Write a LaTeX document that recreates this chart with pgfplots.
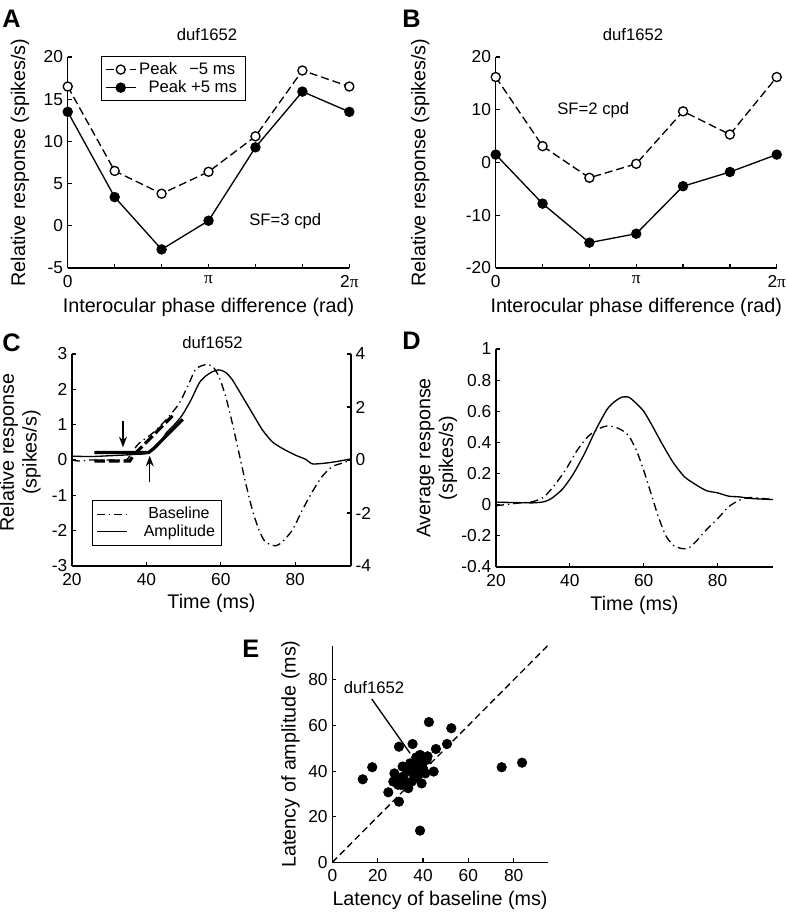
\documentclass[border=0pt]{standalone}
\usepackage{pgfplots}
\pgfplotsset{compat=1.18}
\usepackage{fontspec}
\setmainfont{Liberation Sans}
\newfontfamily\serif{Liberation Serif}
\usetikzlibrary{arrows.meta}
\newcommand\ticksize{\fontsize{13}{15}\selectfont}
\newcommand\labsize{\fontsize{14.8}{17}\selectfont}
\newcommand\legsize{\fontsize{12.5}{14}\selectfont}
\newcommand\letsize{\fontsize{19}{22}\selectfont\bfseries}
\pgfplotsset{
  panel/.style={
    scale only axis, anchor=south west,
    axis x line*=bottom, axis y line*=left,
    tick align=inside, major tick length=3pt,
    axis line style={line width=0.9pt, black},
    every tick/.style={line width=0.9pt, black},
    tick label style={font=\ticksize},
    xticklabel style={yshift=-2pt},
    label style={font=\labsize},
    /pgf/number format/assume math mode=true,
  },
  dashdot/.style={black, line width=1pt, dash pattern=on 6pt off 3pt on 1pt off 3pt},
  longlegend/.style={legend image code/.code={\draw[mark repeat=2,mark phase=2,##1] plot coordinates {(0cm,0cm) (0.4cm,0cm) (0.8cm,0cm)};}},
}
\begin{document}
\begin{tikzpicture}
\path[use as bounding box] (0,0) rectangle (588.75pt,684.75pt);

% ---------------- A ----------------
\begin{axis}[panel, at={(50.8pt,483.75pt)}, width=211.2pt, height=158.25pt,
  xmin=0, xmax=6.2832, ymin=-5, ymax=20, clip=false,
  xtick={0,1.0472,2.0944,3.1416,4.1888,5.236,6.2832},
  xticklabels={0,,,{\serif π},,,{2\serif π}},
  ytick={-5,0,5,10,15,20}, yticklabels={-5,0,5,10,15,20},
  xlabel={Interocular phase difference (rad)},
  ylabel={Relative response (spikes/s)},
  xlabel style={at={(axis description cs:0.5,-0.213)}, anchor=base},
  ylabel style={at={(axis description cs:-0.169,0.5)}, anchor=center},
  legend style={at={(0.118,1.005)}, anchor=north west, font=\legsize, draw=black, line width=0.9pt, inner sep=2.5pt, row sep=-1pt},
  legend cell align=left, longlegend,
  legend image post style={line width=1pt},
]
\addplot[black, line width=1pt, dash pattern=on 6pt off 3pt, mark=*, mark size=3.4pt, mark options={solid, fill=white, line width=1pt}]
  coordinates {(0,16.5) (1.0472,6.5) (2.0944,3.8) (3.1416,6.4) (4.1888,10.6) (5.236,18.4) (6.2832,16.5)};
\addlegendentry{Peak\ \ \,\textminus5 ms\ \ }
\addplot[black, line width=1pt, mark=*, mark size=3.4pt, mark options={fill=black}]
  coordinates {(0,13.5) (1.0472,3.4) (2.0944,-2.8) (3.1416,0.6) (4.1888,9.3) (5.236,15.9) (6.2832,13.5)};
\addlegendentry{\ \ Peak +5 ms}
\node[font=\legsize] at (axis cs:4.854,0.57) {SF=3 cpd};
\end{axis}

% ---------------- B ----------------
\begin{axis}[panel, at={(371.8pt,483.75pt)}, width=210.75pt, height=158.25pt,
  xmin=0, xmax=6.2832, ymin=-20, ymax=20, clip=false,
  xtick={0,1.0472,2.0944,3.1416,4.1888,5.236,6.2832},
  xticklabels={0,,,{\serif π},,,{2\serif π}},
  ytick={-20,-10,0,10,20}, yticklabels={-20,-10,0,10,20},
  xlabel={Interocular phase difference (rad)},
  ylabel={Relative response (spikes/s)},
  xlabel style={at={(axis description cs:0.5,-0.213)}, anchor=base},
  ylabel style={at={(axis description cs:-0.269,0.5)}, anchor=center},
]
\addplot[black, line width=1pt, dash pattern=on 6pt off 3pt, mark=*, mark size=3.4pt, mark options={solid, fill=white, line width=1pt}]
  coordinates {(0,16.2) (1.0472,3.1) (2.0944,-2.9) (3.1416,-0.25) (4.1888,9.7) (5.236,5.3) (6.2832,16.2)};
\addplot[black, line width=1pt, mark=*, mark size=3.4pt, mark options={fill=black}]
  coordinates {(0,1.5) (1.0472,-7.8) (2.0944,-15.2) (3.1416,-13.5) (4.1888,-4.5) (5.236,-1.8) (6.2832,1.5)};
\node[font=\legsize] at (axis cs:2.18,9.9) {SF=2 cpd};
\end{axis}

% ---------------- C ----------------
\begin{axis}[panel, at={(54pt,260.25pt)}, width=209.25pt, height=159pt,
  xmin=20, xmax=95, ymin=-3, ymax=3,
  xtick={20,40,60,80}, xticklabels={20,40,60,80},
  ytick={-3,-2,-1,0,1,2,3}, yticklabels={-3,-2,-1,0,1,2,3},
  xlabel={Time (ms)},
  ylabel={Relative response\\(spikes/s)},
  ylabel style={align=center, at={(axis description cs:-0.186,0.535)}, anchor=center},
  xlabel style={at={(axis description cs:0.5,-0.2)}, anchor=base},
  legend style={at={(0.07,0.095)}, anchor=south west, font=\fontsize{12}{14}\selectfont, draw=black, line width=0.9pt, inner sep=3pt, row sep=-1pt},
  legend cell align=left, longlegend,
  legend image post style={line width=1pt},
]
\addplot[dashdot, smooth, tension=0.4] coordinates {(20,0.0)(22,-0.03)(25,0)(30,0)(34.5,0)(36,0.2)(38,0.47)(41.7,0.76)(45.3,1.14)(48.8,1.6)(51.5,2.18)(53.3,2.58)(56,2.7)(57.8,2.65)(59.5,2.36)(61.3,1.8)(63.1,1.04)(64.9,0.19)(66.7,-0.66)(68.5,-1.42)(70.3,-1.99)(72,-2.32)(74.7,-2.43)(76.5,-2.32)(79.2,-1.99)(81.9,-1.42)(84.6,-0.9)(87.2,-0.47)(89.9,-0.19)(92.6,-0.09)(95,0)};
\addlegendentry{\ \ \ \ Baseline}
\addplot[black, line width=1pt, smooth, tension=0.4] coordinates {(20,0.11)(23,0.1)(26,0.1)(30,0.12)(34,0.14)(37,0.16)(40,0.18)(42,0.3)(43.5,0.45)(45.3,0.76)(47.5,1.0)(49.7,1.28)(52,1.7)(54.2,2.18)(56,2.38)(57.8,2.5)(59.5,2.55)(61.3,2.48)(63.1,2.27)(65.8,1.8)(68.5,1.32)(71.2,0.85)(73.8,0.52)(76.5,0.33)(80,0.14)(82.8,0.02)(84.6,-0.11)(88,-0.09)(90.8,-0.05)(95,0.03)};
\addlegendentry{\ \ \ Amplitude}
\addplot[forget plot, black, line width=2.4pt, dash pattern=on 8pt off 3pt] coordinates {(26,-0.03)(35.5,-0.03)(36.6,0.14)(47,1.25)};
\addplot[forget plot, black, line width=2.4pt] coordinates {(26,0.21)(40.6,0.21)(42,0.33)(49.8,1.15)};
\addplot[forget plot, black, line width=0.9pt, -{Stealth[length=8pt,width=6pt]}] coordinates {(33.7,1.11)(33.7,0.36)};
\addplot[forget plot, black, line width=0.9pt, -{Stealth[length=8pt,width=6pt]}] coordinates {(40.9,-0.63)(40.9,0.12)};
\end{axis}
\begin{axis}[panel, at={(54pt,260.25pt)}, width=209.25pt, height=159pt,
  axis x line=none, axis y line*=right,
  xmin=20, xmax=95, ymin=-4, ymax=4,
  ytick={-4,-2,0,2,4}, yticklabels={-4,-2,0,2,4},
]
\end{axis}

% ---------------- D ----------------
\begin{axis}[panel, at={(372pt,259.5pt)}, width=207.75pt, height=163.5pt,
  xmin=20, xmax=95, ymin=-0.4, ymax=1,
  xtick={20,40,60,80}, xticklabels={20,40,60,80},
  ytick={-0.4,-0.2,0,0.2,0.4,0.6,0.8,1}, yticklabels={-0.4,-0.2,0,0.2,0.4,0.6,0.8,1},
  xlabel={Time (ms)},
  ylabel={Average response\\(spikes/s)},
  ylabel style={align=center, at={(axis description cs:-0.213,0.5)}, anchor=center},
  xlabel style={at={(axis description cs:0.5,-0.2)}, anchor=base},
]
\addplot[black, line width=1pt, smooth, tension=0.4] coordinates {(20,0.016)(25,0.014)(30,0.012)(33,0.019)(35,0.04)(38,0.1)(41,0.2)(44,0.33)(47,0.48)(50,0.61)(52,0.66)(54,0.69)(56,0.69)(58,0.65)(60,0.6)(62,0.52)(65,0.39)(68,0.27)(71,0.18)(74,0.13)(77,0.09)(80,0.076)(83,0.055)(86,0.05)(89,0.04)(95,0.033)};
\addplot[dashdot, smooth, tension=0.4] coordinates {(20,-0.007)(25,0.008)(30,0.02)(33,0.05)(36,0.13)(39,0.23)(42,0.35)(45,0.44)(48,0.49)(50,0.505)(52,0.5)(54,0.48)(56,0.44)(58,0.35)(60,0.22)(62,0.07)(64,-0.08)(66,-0.2)(68,-0.26)(70,-0.28)(72,-0.28)(74,-0.24)(77,-0.16)(80,-0.09)(83,-0.013)(86,0.03)(89,0.046)(95,0.033)};
\end{axis}

% ---------------- E ----------------
\begin{axis}[panel, at={(249.25pt,38pt)}, width=161.5pt, height=162.5pt,
  xmin=0, xmax=95, ymin=0, ymax=95,
  xtick={0,20,40,60,80}, xticklabels={0,20,40,60,80},
  ytick={0,20,40,60,80}, yticklabels={0,20,40,60,80},
  xlabel={Latency of baseline (ms)},
  ylabel={Latency of amplitude (ms)},
  ylabel style={at={(axis description cs:-0.194,0.5)}, anchor=center},
  xlabel style={at={(axis description cs:0.5,-0.2)}, anchor=base},
]
\addplot[black, line width=1pt, dash pattern=on 5pt off 3pt] coordinates {(0,0)(95,95)};
\addplot[only marks, mark=*, mark size=3.6pt, mark options={fill=black, draw=black}] coordinates {
(13.4,36.4)(17.6,41.7)(29.4,50.7)(35.4,51.9)(42.6,61.5)(52.5,58.8)(50.6,51.9)(45.7,49.7)(44.7,39.8)(39.4,34.6)(24.7,30.7)(29.4,26.6)(38.7,13.9)(74.7,41.7)(83.7,43.7)(27.4,39)(26.9,35.4)(30.6,33.9)(33.5,32.5)(31.3,37.6)(35.7,39)(34.3,43.4)(38.7,47.1)(41.6,44.9)(36.5,41.9)(40,41)(35,35.4)(28.4,37)(37.9,44.9)(39.5,43)(42,46.5)(37,46)(33,40)(38,38.5)(41,39)(32,35)(36.5,37)(29,34)(31,42)(37.2,39)};
\addplot[black, line width=1pt] coordinates {(17.4,71.6)(34.3,47.8)};
\node[font=\legsize] at (axis cs:18.4,76.5) {duf1652};
\end{axis}

% ---------------- titles and letters ----------------
\node[font=\legsize] at (155.25pt,658.5pt) {duf1652};
\node[font=\legsize] at (474.75pt,658.5pt) {duf1652};
\node[font=\legsize] at (159.4pt,427.5pt) {duf1652};
\node[font=\letsize, anchor=base west, inner sep=0pt] at (1.5pt,663.75pt) {A};
\node[font=\letsize, anchor=base west, inner sep=0pt] at (301.5pt,663.75pt) {B};
\node[font=\letsize, anchor=base west, inner sep=0pt] at (1.5pt,420.75pt) {C};
\node[font=\letsize, anchor=base west, inner sep=0pt] at (301.5pt,422.25pt) {D};
\node[font=\letsize, anchor=base west, inner sep=0pt] at (181.5pt,191.25pt) {E};
\end{tikzpicture}
\end{document}
